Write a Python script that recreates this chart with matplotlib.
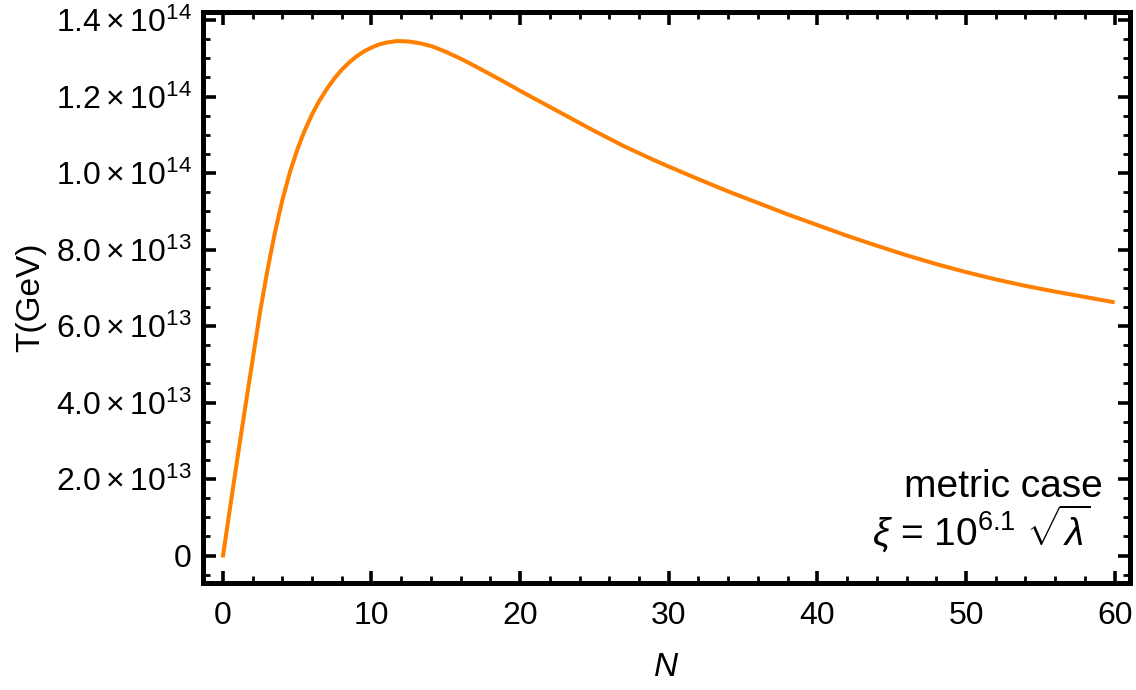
import matplotlib
matplotlib.use("Agg")
import matplotlib.pyplot as plt
from matplotlib.ticker import FixedLocator, FuncFormatter, MultipleLocator

plt.rcParams['font.family'] = ['Liberation Sans', 'DejaVu Sans']
plt.rcParams['mathtext.fontset'] = 'custom'
plt.rcParams['mathtext.rm'] = 'Liberation Sans'
plt.rcParams['mathtext.it'] = 'Liberation Sans:italic'
plt.rcParams['mathtext.bf'] = 'Liberation Sans:bold'

# data (N, T in GeV)
N_vals = [0, 0.5, 1.0, 1.5, 2.0, 2.5, 3.0, 3.5, 4.0, 4.5, 5.0, 5.5, 6.0, 6.5,
          7.0, 7.5, 8.0, 8.5, 9.0, 9.5, 10, 10.5, 11, 11.7, 12.5, 13.3, 14.1,
          15, 16, 17, 18, 19, 20, 21, 22, 23, 24, 25, 26, 27, 28, 29, 30,
          32, 34, 36, 38, 40, 42, 44, 46, 48, 50, 52, 54, 56, 58, 60]
T_vals = [-0.005e14, 0.128e14, 0.258e14, 0.385e14, 0.510e14, 0.635e14,
          0.745e14, 0.843e14, 0.928e14, 1.000e14, 1.060e14, 1.110e14,
          1.153e14, 1.189e14, 1.220e14, 1.247e14, 1.270e14, 1.289e14,
          1.305e14, 1.318e14, 1.328e14, 1.336e14, 1.341e14, 1.345e14,
          1.344e14, 1.339e14, 1.331e14, 1.317e14, 1.299e14, 1.279e14,
          1.258e14, 1.237e14, 1.215e14, 1.194e14, 1.173e14, 1.152e14,
          1.131e14, 1.110e14, 1.090e14, 1.070e14, 1.052e14, 1.034e14,
          1.017e14, 0.984e14, 0.952e14, 0.922e14, 0.892e14, 0.864e14,
          0.836e14, 0.810e14, 0.785e14, 0.762e14, 0.741e14, 0.722e14,
          0.705e14, 0.690e14, 0.676e14, 0.662e14]

x_ticks = [0, 10, 20, 30, 40, 50, 60]
y_ticks = [0, 0.2e14, 0.4e14, 0.6e14, 0.8e14, 1.0e14, 1.2e14, 1.4e14]

x_label = "N"
y_label = "T(GeV)"
note_line1 = "metric case"
note_line2 = r"$\xi$ = 10$^{6.1}$ $\sqrt{\lambda}$"

fig = plt.figure(figsize=(11.36, 6.90), dpi=100)
ax = fig.add_axes([0.1787, 0.155, 0.9943 - 0.1787, 0.9826 - 0.155])

ax.plot(N_vals, T_vals, color='#FF8000', lw=2.9, solid_capstyle='butt',
        solid_joinstyle='round')

ax.set_xlim(-1.33, 61.0)
ax.set_ylim(-0.0719e14, 1.421e14)

ax.xaxis.set_major_locator(FixedLocator(x_ticks))
ax.xaxis.set_minor_locator(MultipleLocator(2))
ax.yaxis.set_major_locator(FixedLocator(y_ticks))
ax.yaxis.set_minor_locator(MultipleLocator(0.05e14))


def yfmt(v, pos):
    if abs(v) < 1e3:
        return "0"
    e = 14 if v >= 0.95e14 else 13
    m = v / 10 ** e
    return r"$%.1f\times10^{%d}$" % (m, e)


ax.yaxis.set_major_formatter(FuncFormatter(yfmt))

for s in ax.spines.values():
    s.set_linewidth(3.6)
    s.set_color('black')

ax.tick_params(which='both', direction='in', top=True, right=True,
               color='black')
ax.tick_params(which='major', length=9, width=2.6, labelsize=23)
ax.tick_params(which='minor', length=5, width=2.0)
ax.tick_params(axis='x', which='major', pad=13)
ax.tick_params(axis='y', which='major', pad=8)

ax.set_xlabel(x_label, fontsize=24, style='italic', labelpad=15)
ax.set_ylabel(y_label, fontsize=24, labelpad=7)

ax.text(0.9714, 0.1506, note_line1, transform=ax.transAxes, ha='right',
        va='baseline', fontsize=28)
ax.text(0.9574, 0.0648, note_line2, transform=ax.transAxes, ha='right',
        va='baseline', fontsize=28)

fig.savefig("out.png", dpi=100)
